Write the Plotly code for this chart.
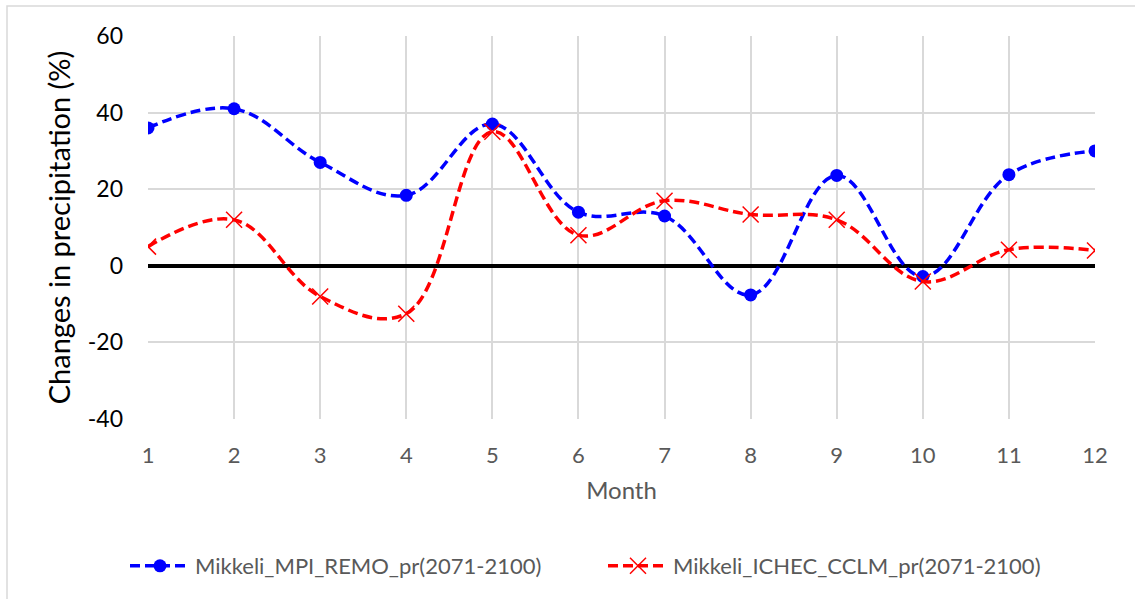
import plotly.graph_objects as go

months = [1, 2, 3, 4, 5, 6, 7, 8, 9, 10, 11, 12]
mpi_remo = [36, 41, 27, 18.4, 37, 14, 13, -7.6, 23.6, -2.8, 23.8, 30]
ichec_cclm = [5, 12, -8, -12.5, 35, 8, 17, 13.4, 12, -4.1, 4.2, 4]
y_ticks = [-40, -20, 0, 20, 40, 60]
y_tick_text = ["-40", "-20", "0", "20", "40", "60"]

W, H = 1135, 599
L, R, T, B = 148, 40, 36, 180
FONT = "Lato, 'Open Sans', sans-serif"

fig = go.Figure()

fig.add_trace(go.Scatter(
    x=months, y=mpi_remo, mode="lines+markers",
    name="Mikkeli_MPI_REMO_pr(2071-2100)",
    line=dict(color="#0000ff", width=3.5, dash="10px,5px", shape="spline", smoothing=1.1),
    marker=dict(symbol="circle", size=13, color="#0000ff"),
))
fig.add_trace(go.Scatter(
    x=months, y=ichec_cclm, mode="lines+markers",
    name="Mikkeli_ICHEC_CCLM_pr(2071-2100)",
    line=dict(color="#ff0000", width=3.5, dash="10px,5px", shape="spline", smoothing=1.1),
    marker=dict(symbol="x-thin", size=16, color="#ff0000",
                line=dict(color="#ff0000", width=1.5)),
))

pw = W - L - R
ph = H - T - B
fig.add_shape(type="rect", xref="paper", yref="paper",
              x0=(7 - L) / pw, x1=(W + 5 - L) / pw,
              y0=-(H + 5 - T - ph) / ph, y1=1 + (T - 6) / ph,
              line=dict(color="#d9d9d9", width=1.5), layer="below")

fig.update_layout(
    width=W, height=H,
    margin=dict(l=L, r=R, t=T, b=B, autoexpand=False),
    paper_bgcolor="white", plot_bgcolor="white",
    font=dict(family=FONT, size=22, color="#595959"),
    showlegend=True,
    legend=dict(orientation="h", x=(125 - L) / pw, xanchor="left",
                y=-(566 - T - ph) / ph, yanchor="middle",
                font=dict(size=22, color="#595959"), itemwidth=60,
                entrywidth=403, traceorder="normal"),
    xaxis=dict(range=[1, 12], tickvals=months, showgrid=True, gridcolor="#d9d9d9",
               gridwidth=1.5, zeroline=False, showline=False, automargin=False,
               tickfont=dict(size=22, color="#595959"), ticks="", ticklabelstandoff=21,
               title=dict(text="Month", font=dict(size=24, color="#595959"), standoff=15)),
    yaxis=dict(range=[-40, 60], tickvals=y_ticks, ticktext=y_tick_text, showgrid=True,
               gridcolor="#d9d9d9", gridwidth=1.5, zeroline=True, zerolinecolor="black",
               zerolinewidth=3.5, showline=False, ticks="", automargin=False,
               tickfont=dict(size=23, color="black"), ticklabelstandoff=24,
               title=dict(text="Changes in precipitation (%)",
                          font=dict(size=29, color="black"), standoff=8)),
)

fig.write_html("out.html")
